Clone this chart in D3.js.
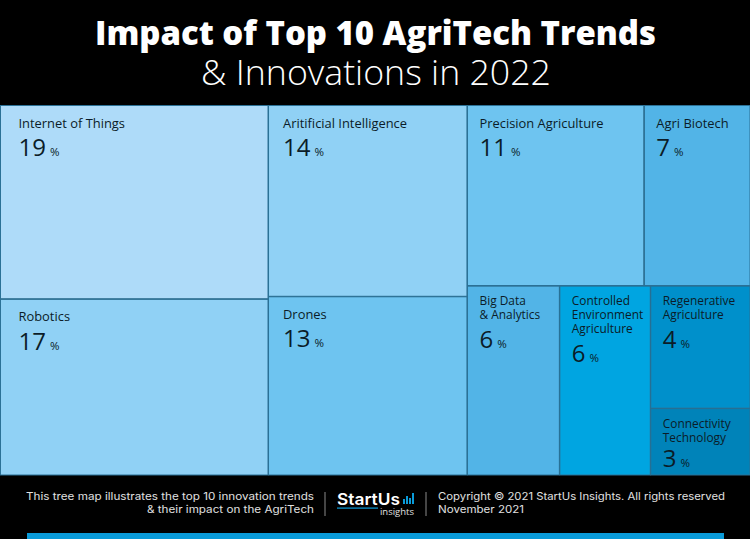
<!DOCTYPE html>
<html>
<head>
<meta charset="utf-8">
<script src="https://cdn.jsdelivr.net/npm/d3@7"></script>
<style>
  html, body { margin: 0; padding: 0; background: #000; }
  svg { display: block; }
  text { font-family: "Open Sans", sans-serif; }
</style>
</head>
<body>
<div id="chart"></div>
<script>
var categories = ["Internet of Things", "Robotics", "Aritificial Intelligence", "Drones",
  "Precision Agriculture", "Agri Biotech", "Big Data\n& Analytics",
  "Controlled\nEnvironment\nAgriculture", "Regenerative\nAgriculture", "Connectivity\nTechnology"];
// percentages as printed on the tiles
var percents = [19, 17, 14, 13, 11, 7, 6, 6, 4, 3];
// tile sizes, the printed numbers are rounded
var tileSizes = [18.7, 17.0, 13.7, 12.8, 11.5, 6.9, 6.3, 6.2, 4.4, 2.4];
var tileColors = ["#aedbf9", "#90d1f5", "#90d1f5", "#6ec4f0", "#6ec4f0", "#52b4e7", "#52b4e7", "#00a5e1", "#0090cb", "#0083b9"];

var width = 750, height = 539;
var mapTop = 105, mapBottom = 475;
var columnInset = [18.5, 15, 12.5];
var inkColor = "#0b1c28";

var svg = d3.select("#chart").append("svg")
  .attr("width", width)
  .attr("height", height);

svg.append("rect").attr("width", width).attr("height", height).attr("fill", "#000");

// title
svg.append("text").attr("x", 375.5).attr("y", 45)
  .attr("text-anchor", "middle").attr("fill", "#fff")
  .attr("textLength", 561).attr("lengthAdjust", "spacingAndGlyphs")
  .style("font-size", "33px").style("font-weight", 800)
  .text("Impact of Top 10 AgriTech Trends");
svg.append("text").attr("x", 376).attr("y", 85)
  .attr("text-anchor", "middle").attr("fill", "#fff")
  .attr("textLength", 350).attr("lengthAdjust", "spacingAndGlyphs")
  .style("font-size", "35px").style("font-weight", 300)
  .text("& Innovations in 2022");

// nesting follows the columns of the picture, slice and dice alternates on it
function leaf(i) {
  return { name: categories[i], pct: percents[i], size: tileSizes[i], color: tileColors[i] };
}
var tree = { children: [
  { children: [leaf(0), leaf(1)] },
  { children: [leaf(2), leaf(3)] },
  { children: [
    { children: [leaf(4), leaf(5)] },
    { children: [leaf(6), leaf(7), { children: [leaf(8), leaf(9)] }] }
  ] }
] };

var root = d3.hierarchy(tree).sum(function(d) { return d.size || 0; });
d3.treemap()
  .tile(d3.treemapSliceDice)
  .size([width, mapBottom - mapTop])(root);

var tiles = svg.append("g")
  .attr("transform", "translate(0," + mapTop + ")")
  .selectAll("g")
  .data(root.leaves())
  .enter().append("g")
    .attr("transform", function(d) { return "translate(" + d.x0 + "," + d.y0 + ")"; });

tiles.append("rect")
  .attr("x", 0.5).attr("y", 0.5)
  .attr("width", function(d) { return d.x1 - d.x0 - 0.5; })
  .attr("height", function(d) { return d.y1 - d.y0 - 0.5; })
  .attr("fill", function(d) { return d.data.color; })
  .attr("stroke", "#2b7196")
  .attr("stroke-width", 1);

tiles.each(function(d) {
  var g = d3.select(this);
  var lines = d.data.name.split("\n");
  var column = root.children.indexOf(d.ancestors().slice(-2)[0]);
  var inset = columnInset[column];
  var wrapped = lines.length > 1;
  var first = wrapped ? 19.5 : 22.5;
  lines.forEach(function(line, i) {
    g.append("text")
      .attr("x", inset).attr("y", first + i * 14)
      .attr("fill", inkColor)
      .style("font-size", wrapped ? "11.9px" : "12.9px")
      .text(line);
  });
  // the low tile has no room for the full gap under its label
  var numY = Math.min(first + (lines.length - 1) * 14 + 28.5, d.y1 - d.y0 - 8);
  var num = g.append("text")
    .attr("x", inset).attr("y", numY)
    .attr("fill", inkColor);
  num.append("tspan").style("font-size", "24px").text(d.data.pct);
  num.append("tspan").attr("dx", 4).style("font-size", "11.5px").text("%");
});

// footer
var footFont = "Inter, sans-serif";
function footText(x, y, anchor, s, len) {
  svg.append("text").attr("x", x).attr("y", y)
    .attr("text-anchor", anchor).attr("fill", "#e0e0e0")
    .attr("textLength", len).attr("lengthAdjust", "spacingAndGlyphs")
    .style("font-family", footFont).style("font-size", "10.5px")
    .text(s);
}
footText(314, 500, "end", "This tree map illustrates the top 10 innovation trends", 288);
footText(314, 513, "end", "& their impact on the AgriTech", 167);
footText(438, 500, "start", "Copyright \u00a9 2021 StartUs Insights. All rights reserved", 287);
footText(438, 513, "start", "November 2021", 86);

// separators
[325, 426].forEach(function(x) {
  svg.append("line").attr("x1", x).attr("x2", x).attr("y1", 492).attr("y2", 516)
    .attr("stroke", "#8a8a8a").attr("stroke-width", 1);
});

// logo
svg.append("text").attr("x", 337).attr("y", 505)
  .attr("fill", "#fff")
  .attr("textLength", 63).attr("lengthAdjust", "spacingAndGlyphs")
  .style("font-family", "Inter, sans-serif")
  .style("font-size", "16.5px").style("font-weight", 600)
  .text("StartUs");
svg.append("rect").attr("x", 337).attr("y", 507.5).attr("width", 41).attr("height", 1.2).attr("fill", "#0a9bd9");
svg.append("text").attr("x", 414).attr("y", 514.5)
  .attr("text-anchor", "end").attr("fill", "#e0e0e0")
  .style("font-size", "9.5px").text("insights");
var logoBars = [5, 8, 6, 11];
logoBars.forEach(function(h, i) {
  svg.append("rect").attr("x", 403 + i * 3).attr("y", 504 - h).attr("width", 2).attr("height", h).attr("fill", "#0a9bd9");
});

// strip at the bottom
svg.append("rect").attr("x", 27).attr("y", 533).attr("width", 697).attr("height", 6).attr("fill", "#0a9bd9");
</script>
</body>
</html>
